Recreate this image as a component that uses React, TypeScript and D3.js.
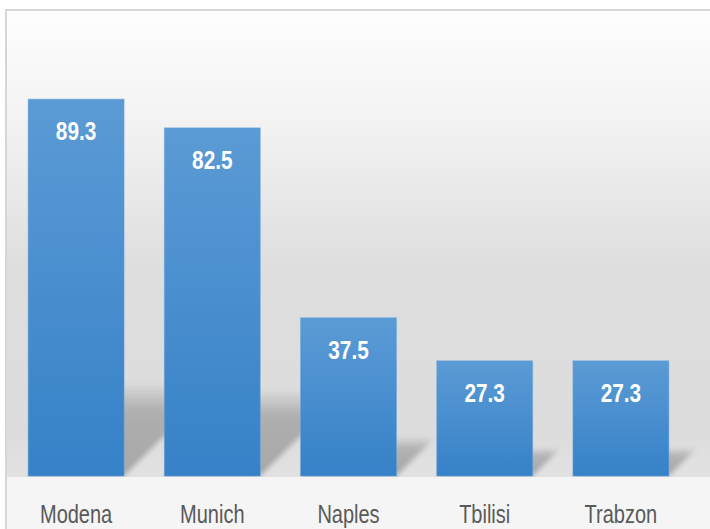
import React from "react";
import * as d3 from "d3";

const categories = ["Modena", "Munich", "Naples", "Tbilisi", "Trabzon"];
const values = [89.3, 82.5, 37.5, 27.3, 27.3];
const yDomain = [0, 100];

const W = 710;
const H = 529;
const FONT = "'Liberation Sans', Arial, sans-serif";

export default function App() {
  const x = d3
    .scaleBand<string>()
    .domain(categories)
    .range([8, 689])
    .paddingInner(0.2954)
    .paddingOuter(0.1477);
  const y = d3.scaleLinear().domain(yDomain).range([476, 54]);
  const base = y(0);

  return (
    <svg
      width={W}
      height={H}
      style={{ position: "absolute", left: 0, top: 0, display: "block" }}
    >
      <defs>
        <linearGradient id="plotBg" x1="0" y1="10" x2="0" y2="477" gradientUnits="userSpaceOnUse">
          <stop offset="0" stopColor="#fefefe" />
          <stop offset="0.25" stopColor="#f2f2f2" />
          <stop offset="0.55" stopColor="#dedede" />
          <stop offset="0.9" stopColor="#dcdcdc" />
          <stop offset="1" stopColor="#e2e2e2" />
        </linearGradient>
        <linearGradient id="barFill" x1="0" y1="0" x2="0" y2="1">
          <stop offset="0" stopColor="#5b9bd5" />
          <stop offset="1" stopColor="#3681c8" />
        </linearGradient>
        <linearGradient id="shadowFill" x1="0" y1="0" x2="0" y2="1">
          <stop offset="0" stopColor="#000" stopOpacity="0" />
          <stop offset="0.3" stopColor="#000" stopOpacity="0.2" />
          <stop offset="1" stopColor="#000" stopOpacity="0.26" />
        </linearGradient>
        <filter id="blur" x="-50%" y="-50%" width="200%" height="200%">
          <feGaussianBlur stdDeviation="2.5" />
        </filter>
        <clipPath id="plotClip">
          <rect x={0} y={10} width={W} height={base + 1 - 10} />
        </clipPath>
      </defs>

      <rect x={0} y={0} width={W} height={H} fill="#ffffff" />
      <rect x={6} y={10} width={W} height={H} fill="#f5f5f5" />
      <rect x={6} y={10} width={W} height={base + 1 - 10} fill="url(#plotBg)" />
      <rect x={6} y={10} width={W + 20} height={H + 20} fill="none" stroke="#d6d6d6" strokeWidth={2} />

      <g clipPath="url(#plotClip)">
        {categories.map((c, i) => {
          const x0 = x(c)!;
          const x1 = x0 + x.bandwidth();
          const h = base - y(values[i]);
          const hs = h * 0.25;
          const dx = hs * 1.0;
          const pts = [
            [x0, base],
            [x1, base],
            [x1 + dx, base - hs],
            [x0 + dx, base - hs],
          ];
          return (
            <polygon
              key={"s" + c}
              points={pts.map((p) => p.join(",")).join(" ")}
              fill="url(#shadowFill)"
              filter="url(#blur)"
            />
          );
        })}
      </g>

      {categories.map((c, i) => (
        <rect
          key={"b" + c}
          x={x(c)!}
          y={y(values[i])}
          width={x.bandwidth()}
          height={base - y(values[i])}
          fill="url(#barFill)"
          stroke="#6aa6dc"
          strokeOpacity={0.5}
          strokeWidth={1}
        />
      ))}

      {categories.map((c, i) => (
        <text
          key={"v" + c}
          transform={`translate(${x(c)! + x.bandwidth() / 2},${y(values[i]) + 41}) scale(0.8,1)`}
          textAnchor="middle"
          fill="#ffffff"
          fontFamily={FONT}
          fontWeight="bold"
          fontSize={26}
        >
          {values[i].toFixed(1)}
        </text>
      ))}

      {categories.map((c) => (
        <text
          key={"c" + c}
          transform={`translate(${x(c)! + x.bandwidth() / 2},523) scale(0.8,1)`}
          textAnchor="middle"
          fill="#595959"
          fontFamily={FONT}
          fontSize={25}
        >
          {c}
        </text>
      ))}
    </svg>
  );
}
